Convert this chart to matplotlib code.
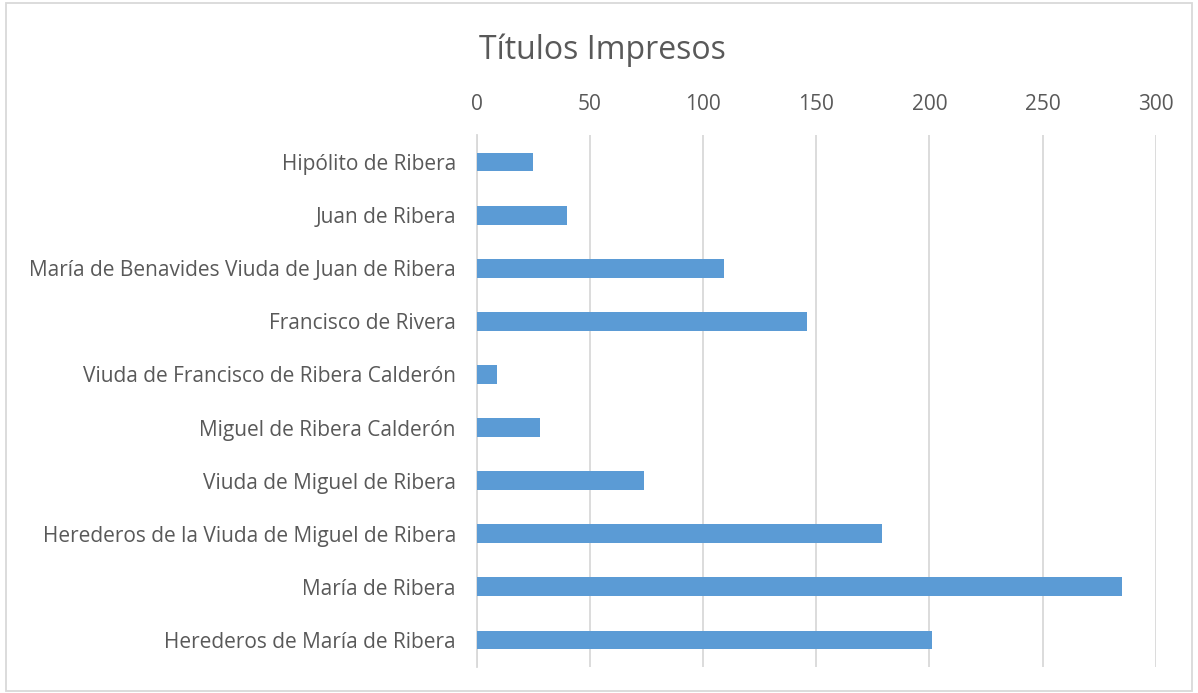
import matplotlib
matplotlib.use("Agg")
import matplotlib.pyplot as plt
from matplotlib.patches import Rectangle

plt.rcParams['font.family'] = ['Open Sans', 'DejaVu Sans']

impresores = [
    'Hipólito de Ribera',
    'Juan de Ribera',
    'María de Benavides Viuda de Juan de Ribera',
    'Francisco de Rivera',
    'Viuda de Francisco de Ribera Calderón',
    'Miguel de Ribera Calderón',
    'Viuda de Miguel de Ribera',
    'Herederos de la Viuda de Miguel de Ribera',
    'María de Ribera',
    'Herederos de María de Ribera',
]
titulos = [25, 40, 109, 146, 9, 28, 74, 179, 285, 201]
xticks = [0, 50, 100, 150, 200, 250, 300]

TEXT = '#595959'
GRID = '#d9d9d9'
BAR = '#5b9bd5'

fig = plt.figure(figsize=(11.98, 6.93), dpi=100)
ax = fig.add_axes([0.398, 0.0382, 0.5668, 0.7663])

ax.barh(range(len(impresores)), titulos, height=0.355, color=BAR, zorder=3)
ax.set_yticks(range(len(impresores)))
ax.set_yticklabels(impresores, fontsize=15, color=TEXT)
ax.set_ylim(len(impresores) - 0.5, -0.5)

ax.set_xlim(0, 300)
ax.set_xticks(xticks)
ax.set_xticklabels([str(t) for t in xticks], fontsize=15, color=TEXT)
ax.xaxis.tick_top()
ax.tick_params(axis='both', length=0)
ax.tick_params(axis='x', pad=15)
ax.tick_params(axis='y', pad=15)
ax.grid(axis='x', color=GRID, linewidth=1.3, zorder=0)
for s in ['top', 'right', 'bottom']:
    ax.spines[s].set_visible(False)
ax.spines['left'].set_color(GRID)
ax.spines['left'].set_linewidth(1.3)

fig.text(0.503, 0.928, 'Títulos Impresos', ha='center', va='center',
         fontsize=23, color=TEXT)

# chart border
fig.patches.append(Rectangle((0.005, 0.003), 0.99, 0.992, transform=fig.transFigure,
                             fill=False, edgecolor=GRID, linewidth=1.3))

fig.savefig('out.png', dpi=100)
